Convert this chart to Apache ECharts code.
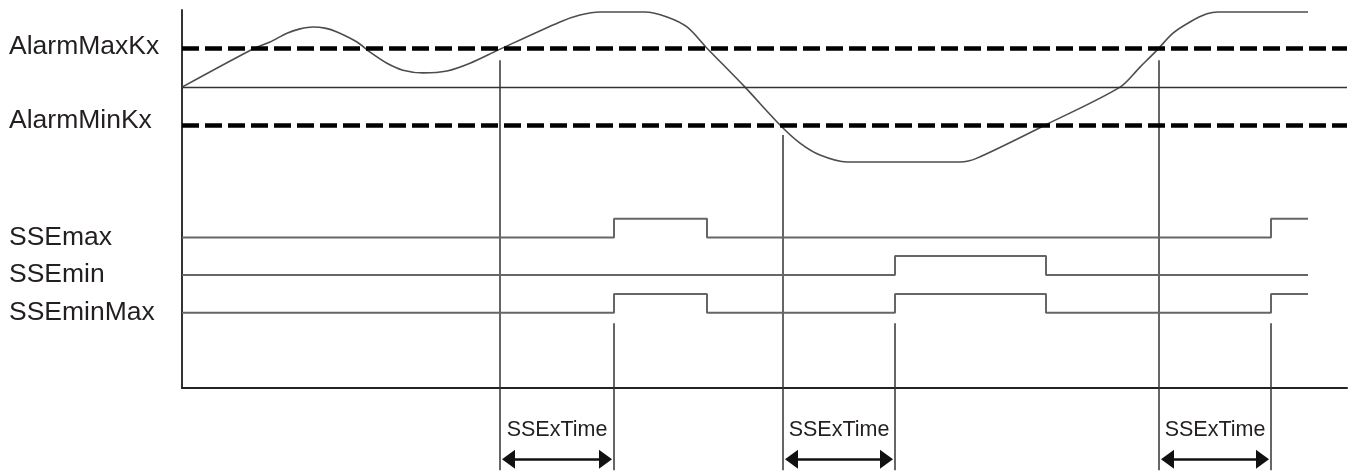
<!DOCTYPE html>
<html>
<head>
<meta charset="utf-8">
<title>SSE alarm timing</title>
<script src="https://cdn.jsdelivr.net/npm/echarts@6/dist/echarts.min.js"></script>
<style>
  html, body { margin: 0; padding: 0; background: #fff; }
  #chart { width: 1351px; height: 475px; }
</style>
</head>
<body>
<div id="chart"></div>
<script>
// time in arbitrary units, analog level in Kx units (alarm limits at +1 / -1)
const analogSignal = [
  [0, 0], [7.1, 0.99], [8.8, 1.17], [10.5, 1.40], [11.8, 1.51], [13.1, 1.56],
  [14.3, 1.53], [15.5, 1.43], [17.5, 1.17], [18.8, 0.91], [20.5, 0.62],
  [22.1, 0.44], [24.1, 0.37], [26.5, 0.42], [28.8, 0.62], [31.6, 0.96],
  [37.8, 1.69], [39.8, 1.87], [41.8, 1.95], [46.3, 1.95], [48.5, 1.82],
  [50.5, 1.56], [52.5, 1.01], [56.3, 0], [59.8, -0.98], [61.8, -1.45],
  [63.8, -1.76], [66.5, -1.94], [77.8, -1.94], [79.5, -1.84], [86.5, -0.96],
  [93.8, 0], [95.8, 0.52], [97.5, 0.96], [99.1, 1.40], [100.8, 1.69],
  [102.5, 1.90], [103.6, 1.95], [112.6, 1.95]
];
const alarmLevels = [1, -1];
const alarmNames = ['AlarmMaxKx', 'AlarmMinKx'];

// digital outputs: [time, state]
const sseMax = [[0, 0], [43.2, 1], [52.5, 0], [108.9, 1], [112.6, 1]];
const sseMin = [[0, 0], [71.3, 1], [86.4, 0], [112.6, 0]];
const sseMinMax = [[0, 0], [43.2, 1], [52.5, 0], [71.3, 1], [86.4, 0], [108.9, 1], [112.6, 1]];
const digitalNames = ['SSEmax', 'SSEmin', 'SSEminMax'];

// analog leaves the band, then output switches SSExTime later
const crossTimes = [31.8, 60.1, 97.7];
const crossIsMax = [true, false, true];
const switchTimes = [43.2, 71.3, 108.9];
const delayLabel = 'SSExTime';

// layout (in analog axis units)
const Y_MIN = -7.8, Y_MAX = 2;
const laneBase = [-3.9, -4.87, -5.85];
const laneHeight = 0.49;
const markerBottom = -9.93;
const arrowLevel = -9.65;
const arrowPad = 0.85;

const FONT = 'Liberation Sans, Arial, sans-serif';
const TEXT = '#231f20';

const chart = echarts.init(document.getElementById('chart'));

const labelStyle = {
  show: true,
  inside: false,
  align: 'left',
  margin: 173,
  fontSize: 26.5,
  fontFamily: FONT,
  color: TEXT,
  padding: [0, 0, 4, 0]
};

const yAxes = [{
  type: 'value', position: 'left', min: Y_MIN, max: Y_MAX,
  axisLine: { show: true, lineStyle: { color: '#333', width: 2 } },
  axisTick: { show: false },
  splitLine: { show: false },
  axisLabel: Object.assign({}, labelStyle, {
    customValues: alarmLevels,
    // the lower limit label sits a little above its line
    formatter: (v) => v < 0 ? '{up|' + alarmNames[1] + '}' : alarmNames[0],
    rich: { up: { fontSize: 26.5, fontFamily: FONT, color: TEXT, padding: [0, 0, 7, 0] } }
  })
}];
digitalNames.forEach((name, i) => {
  yAxes.push({
    type: 'value',
    position: 'left',
    offset: 0,
    min: (Y_MIN - laneBase[i]) / laneHeight,
    max: (Y_MAX - laneBase[i]) / laneHeight,
    axisLine: { show: false },
    axisTick: { show: false },
    splitLine: { show: false },
    axisLabel: Object.assign({}, labelStyle, {
      customValues: [0],
      formatter: () => name
    })
  });
});

const digitalSeries = [sseMax, sseMin, sseMinMax].map((d, i) => ({
  type: 'line',
  name: digitalNames[i],
  yAxisIndex: i + 1,
  step: 'end',
  data: d,
  showSymbol: false,
  lineStyle: { color: '#666', width: 2 }
}));

const verticals = [];
crossTimes.forEach((t, i) => {
  verticals.push({ coords: [[t, crossIsMax[i] ? 0.7 : -1.24], [t, markerBottom]] });
});
switchTimes.forEach((t) => {
  verticals.push({ coords: [[t, -6.12], [t, markerBottom]] });
});

const arrows = crossTimes.map((t, i) => ({
  coords: [[t + arrowPad, arrowLevel], [switchTimes[i] - arrowPad, arrowLevel]]
}));

chart.setOption({
  animation: false,
  backgroundColor: '#fff',
  grid: { left: 182, right: 4, top: 10, bottom: 87, outerBoundsMode: 'none', containLabel: false },
  xAxis: {
    type: 'value', min: 0, max: 116.5,
    axisLine: { show: true, onZero: false, lineStyle: { color: '#222', width: 2 } },
    axisTick: { show: false },
    axisLabel: { show: false },
    splitLine: { show: false }
  },
  yAxis: yAxes,
  series: [
    {
      type: 'line',
      name: 'Kx',
      data: analogSignal,
      showSymbol: false,
      smooth: 0.3,
      lineStyle: { color: '#4d4d4d', width: 1.6 },
      markLine: {
        silent: true,
        symbol: 'none',
        label: { show: false },
        data: [
          { yAxis: alarmLevels[0], lineStyle: { color: '#000', width: 4.5, type: [17, 6] } },
          { yAxis: alarmLevels[1], lineStyle: { color: '#000', width: 4.5, type: [17, 6] } },
          { yAxis: 0, lineStyle: { color: '#333', width: 1.3, type: 'solid' } }
        ]
      }
    },
    ...digitalSeries,
    {
      type: 'lines',
      coordinateSystem: 'cartesian2d',
      clip: false,
      silent: true,
      symbol: 'none',
      lineStyle: { color: '#333', width: 1.5, opacity: 1 },
      data: verticals
    },
    {
      type: 'lines',
      coordinateSystem: 'cartesian2d',
      clip: false,
      silent: true,
      symbol: ['triangle', 'triangle'],
      symbolSize: [[19, 13], [19, 13]],
      lineStyle: { color: '#111', width: 2.5, opacity: 1 },
      label: {
        show: true,
        position: 'middle',
        distance: 18,
        formatter: delayLabel,
        fontSize: 21.5,
        fontFamily: FONT,
        color: TEXT
      },
      data: arrows
    }
  ]
});
</script>
</body>
</html>
